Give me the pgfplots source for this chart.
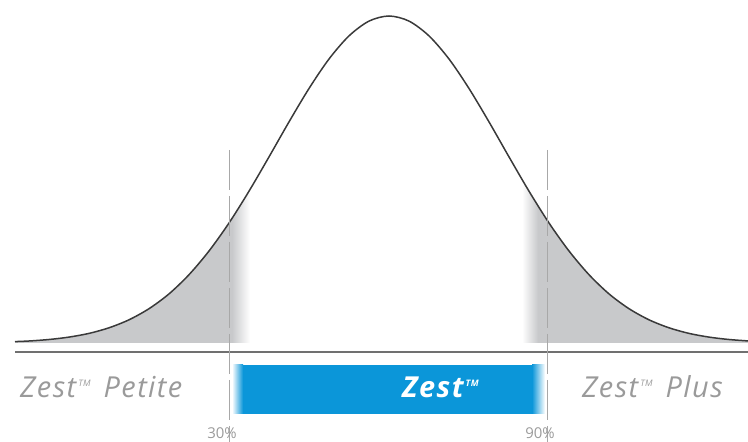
\documentclass[border=0pt]{standalone}
\usepackage{pgfplots}
\pgfplotsset{compat=1.18}
\usepackage{fontspec}
\setmainfont{Open Sans}
\definecolor{curvec}{HTML}{3A3A3A}
\definecolor{tailgray}{HTML}{C8C9CB}
\definecolor{zestblue}{HTML}{0B96D9}
\definecolor{labgray}{HTML}{9A9A9A}
\definecolor{basegray}{HTML}{707070}
\definecolor{dashgray}{HTML}{A8A8A8}
\newcommand{\tm}{\hspace{2bp}\raisebox{11bp}{\fontsize{9}{9}\selectfont TM}}
\begin{document}
\begin{tikzpicture}
\begin{axis}[hide axis, scale only axis, width=748bp, height=442bp,
  xmin=0, xmax=748, ymin=0, ymax=442, clip=true]
% left tail (solid)
\addplot[draw=none, fill=tailgray] coordinates {
(15,99)(15,100.4)(29,101.0)(49,102.5)(69,104.9)(89,108.6)(109,114.2)(129,122.2)
(149,133.3)(169,148.1)(189,167.3)(209,191.0)(229,219.0)(232,223.6)(232,99)} --cycle;
% left tail fade
\addplot[draw=none, left color=tailgray, right color=white] coordinates {
(232,99)(232,223.6)(241,237.7)(250,252.5)(250,99)} --cycle;
% right tail fade
\addplot[draw=none, left color=white, right color=tailgray] coordinates {
(522,99)(522,262.6)(530,249.1)(538,236.1)(538,99)} --cycle;
% right tail (solid)
\addplot[draw=none, fill=tailgray] coordinates {
(538,99)(538,236.1)(549,219.0)(569,191.0)(589,167.3)(609,148.1)(629,133.3)(649,122.2)
(669,114.2)(689,108.6)(709,104.9)(729,102.5)(749,101.0)(749,99)} --cycle;
% bell curve
\addplot[curvec, line width=1.5bp, smooth] coordinates {
(15,100.4)(29,101.0)(49,102.5)(69,104.9)(89,108.6)(109,114.2)(129,122.2)
(149,133.3)(169,148.1)(189,167.3)(209,191.0)(229,219.0)(249,250.8)(269,285.1)
(289,320.1)(309,353.5)(329,383.0)(349,406.1)(369,420.9)(389,426.0)(409,420.9)
(429,406.1)(449,383.0)(469,353.5)(489,320.1)(509,285.1)(529,250.8)(549,219.0)
(569,191.0)(589,167.3)(609,148.1)(629,133.3)(649,122.2)(669,114.2)(689,108.6)
(709,104.9)(729,102.5)(749,101.0)};
% baseline
\addplot[basegray, line width=2.5bp] coordinates {(15,90)(749,90)};
% blue bar
\addplot[draw=none, left color=white, right color=zestblue] coordinates {
(232,28)(232,77)(243,77)(243,28)} --cycle;
\addplot[draw=none, fill=zestblue] coordinates {
(243,28)(243,77)(532,77)(532,28)} --cycle;
\addplot[draw=none, left color=zestblue, right color=white] coordinates {
(532,28)(532,77)(545,77)(545,28)} --cycle;
% dashed separators
\addplot[dashgray, line width=0.8bp, dash pattern=on 40bp off 6bp] coordinates {(229,292)(229,0)};
\addplot[dashgray, line width=0.8bp, dash pattern=on 40bp off 6bp] coordinates {(547,292)(547,0)};
% labels
\node[anchor=base west, inner sep=0, text=labgray, font=\fontsize{29}{30}\selectfont\itshape\addfontfeature{LetterSpace=5}] at (axis cs:20,44) {Zest\tm\hspace{4bp} Petite};
\node[anchor=base west, inner sep=0, text=white, font=\fontsize{29}{30}\selectfont\itshape\bfseries\addfontfeature{LetterSpace=5}] at (axis cs:402,44) {Zest\tm};
\node[anchor=base west, inner sep=0, text=labgray, font=\fontsize{29}{30}\selectfont\itshape\addfontfeature{LetterSpace=5}] at (axis cs:582,44) {Zest\tm\hspace{4bp} Plus};
\node[anchor=north, inner sep=0, text=labgray, font=\fontsize{15}{16}\selectfont] at (axis cs:222,14.5) {30\%};
\node[anchor=north, inner sep=0, text=labgray, font=\fontsize{15}{16}\selectfont] at (axis cs:540,14.5) {90\%};
\end{axis}
\pgfresetboundingbox
\useasboundingbox (0,0) rectangle (748bp,442bp);
\end{tikzpicture}
\end{document}
